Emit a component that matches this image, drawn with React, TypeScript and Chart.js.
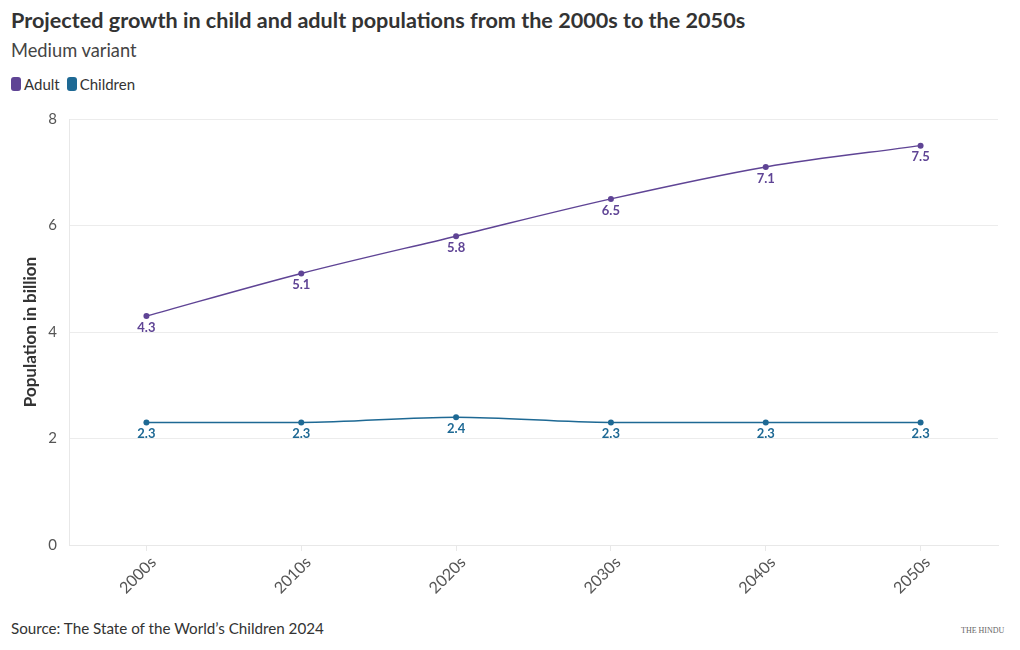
import React, { useEffect, useRef } from "react";
import { Chart, registerables } from "chart.js";

Chart.register(...registerables);

const categories = ["2000s", "2010s", "2020s", "2030s", "2040s", "2050s"];
const adultValues = [4.3, 5.1, 5.8, 6.5, 7.1, 7.5];
const childrenValues = [2.3, 2.3, 2.4, 2.3, 2.3, 2.3];
const yTicks = [0, 2, 4, 6, 8];

const ADULT = "#5f4495";
const CHILD = "#1e6994";
const FONT = "Lato, 'Noto Sans', sans-serif";

const labelPlugin = {
  id: "pointLabels",
  afterDatasetsDraw(chart: any) {
    const ctx = chart.ctx;
    ctx.save();
    ctx.font = `bold 13px ${FONT}`;
    ctx.textAlign = "center";
    ctx.textBaseline = "top";
    chart.data.datasets.forEach((ds: any, i: number) => {
      const meta = chart.getDatasetMeta(i);
      ctx.fillStyle = ds.borderColor;
      meta.data.forEach((pt: any, j: number) => {
        ctx.fillText(String(ds.data[j]), pt.x, pt.y + 5);
      });
    });
    ctx.restore();
  },
};

export default function App() {
  const ref = useRef<HTMLCanvasElement>(null);
  useEffect(() => {
    if (!ref.current) return;
    const chart = new Chart(ref.current, {
      type: "line",
      data: {
        labels: categories,
        datasets: [
          {
            label: "Adult",
            data: adultValues,
            borderColor: ADULT,
            backgroundColor: ADULT,
            borderWidth: 1.5,
            pointRadius: 3,
            pointBorderWidth: 0,
            cubicInterpolationMode: "monotone",
          },
          {
            label: "Children",
            data: childrenValues,
            borderColor: CHILD,
            backgroundColor: CHILD,
            borderWidth: 1.5,
            pointRadius: 3,
            pointBorderWidth: 0,
            cubicInterpolationMode: "monotone",
          },
        ],
      },
      options: {
        animation: false,
        responsive: false,
        maintainAspectRatio: false,
        layout: { padding: { top: 19, right: 22, left: 0, bottom: 0 } },
        plugins: { legend: { display: false }, tooltip: { enabled: false } },
        scales: {
          x: {
            offset: true,
            grid: {
              display: true,
              offset: false,
              drawOnChartArea: false,
              drawTicks: true,
              tickLength: 6,
              color: "#e8e8e8",
            },
            border: { display: true, color: "#e8e8e8" },
            ticks: {
              minRotation: 45,
              maxRotation: 45,
              color: "#555",
              font: { family: FONT, size: 16 },
              padding: 2,
              labelOffset: 7,
            },
            afterFit(scale: any) {
              scale.height = 65;
            },
          },
          y: {
            min: 0,
            max: 8,
            afterBuildTicks(scale: any) {
              scale.ticks = yTicks.map((v) => ({ value: v }));
            },
            grid: { color: "#ececec", drawTicks: false },
            border: { display: true, color: "#e8e8e8" },
            ticks: {
              color: "#555",
              font: { family: FONT, size: 15 },
              padding: 12,
            },
            title: {
              display: true,
              text: "Population in billion",
              color: "#333",
              font: { family: FONT, size: 17, weight: "bold" },
              padding: { top: 20, bottom: 0 },
            },
            afterFit(scale: any) {
              scale.width = 69;
            },
          },
        },
      },
      plugins: [labelPlugin],
    });
    return () => chart.destroy();
  }, []);

  return (
    <div
      style={{
        position: "absolute",
        left: 0,
        top: 0,
        width: 1020,
        height: 650,
        background: "#fff",
        fontFamily: FONT,
        overflow: "hidden",
      }}
    >
      <canvas
        ref={ref}
        width={1020}
        height={512}
        style={{ position: "absolute", left: 0, top: 98, width: 1020, height: 512 }}
      />
      <div
        style={{
          position: "absolute",
          left: 11,
          top: 7,
          fontSize: 21.6,
          fontWeight: "bold",
          color: "#333",
          whiteSpace: "nowrap",
        }}
      >
        Projected growth in child and adult populations from the 2000s to the 2050s
      </div>
      <div
        style={{ position: "absolute", left: 11, top: 39, fontSize: 18.3, color: "#444", whiteSpace: "nowrap" }}
      >
        Medium variant
      </div>
      <div
        style={{
          position: "absolute",
          left: 11,
          top: 75,
          fontSize: 15,
          color: "#333",
          display: "flex",
          alignItems: "center",
          whiteSpace: "nowrap",
        }}
      >
        <span
          style={{ display: "inline-block", width: 10, height: 14, borderRadius: 3, background: ADULT, marginRight: 3 }}
        />
        <span style={{ marginRight: 7 }}>Adult</span>
        <span
          style={{ display: "inline-block", width: 10, height: 14, borderRadius: 3, background: CHILD, marginRight: 3 }}
        />
        <span>Children</span>
      </div>
      <div
        style={{ position: "absolute", left: 11, top: 619, fontSize: 15.2, color: "#333", whiteSpace: "nowrap" }}
      >
        Source: The State of the World’s Children 2024
      </div>
      <div
        style={{
          position: "absolute",
          left: 961,
          top: 626,
          fontSize: 8,
          color: "#666",
          fontFamily: "'Liberation Serif', serif",
          whiteSpace: "nowrap",
        }}
      >
        THE HINDU
      </div>
    </div>
  );
}
